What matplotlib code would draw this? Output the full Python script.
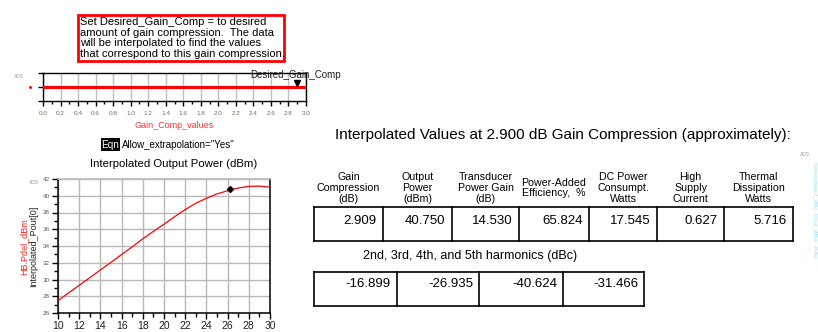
import matplotlib
matplotlib.use("Agg")
import matplotlib.pyplot as plt
from matplotlib.patches import Rectangle
from matplotlib.ticker import MultipleLocator, FormatStrFormatter

plt.rcParams['font.family'] = ['Liberation Sans', 'DejaVu Sans']

# ---------------- data ----------------
note_lines = ["Set Desired_Gain_Comp = to desired",
              "amount of gain compression.  The data",
              "will be interpolated to find the values",
              "that correspond to this gain compression."]

gain_comp_values = [0.0, 3.0]
gain_comp_level = [0.0, 0.0]
desired_gain_comp = 2.9

pin_dbm = [10, 11, 12, 13, 14, 15, 16, 17, 18, 19, 20,
           21, 22, 23, 24, 25, 26, 27, 28, 29, 30]
pout_dbm = [27.47, 28.40, 29.30, 30.22, 31.15, 32.05, 32.98, 33.90, 34.85, 35.75, 36.60,
            37.50, 38.35, 39.10, 39.70, 40.22, 40.60, 40.92, 41.12, 41.15, 41.02]
marker_pin = 26.2
marker_pout = 40.75

header_labels = [["Gain", "Compression", "(dB)"], ["Output", "Power", "(dBm)"],
                 ["Transducer", "Power Gain", "(dB)"], ["Power-Added", "Efficiency,  %"],
                 ["DC Power", "Consumpt.", "Watts"], ["High", "Supply", "Current"],
                 ["Thermal", "Dissipation", "Watts"]]
table_values = [2.909, 40.750, 14.530, 65.824, 17.545, 0.627, 5.716]
harmonic_values = [-16.899, -26.935, -40.624, -31.466]

W, H = 818, 332
fig = plt.figure(figsize=(W / 100, H / 100), dpi=100)
fig.patch.set_facecolor('white')

# overlay in pixel coordinates
bg = fig.add_axes([0, 0, 1, 1])
bg.set_xlim(0, W)
bg.set_ylim(H, 0)
bg.axis('off')

# note box
bg.add_patch(Rectangle((78, 15), 206, 46, fill=False, edgecolor='#ff0000', lw=2))
for i, line in enumerate(note_lines):
    bg.text(80.5, 22 + i * 10.7, line, fontsize=8, va='center', ha='left', color='black')

# small labels
bg.text(14, 76, 'ADS', fontsize=3.5, color='#999999', ha='left', va='center')
bg.plot([30], [87], marker='s', ms=1, color='red')
bg.text(29, 183, 'ADS', fontsize=3.5, color='#999999', ha='left', va='center')
bg.text(800, 155, 'ADS', fontsize=3.5, color='#999999', ha='left', va='center')

# Eqn
bg.add_patch(Rectangle((101, 138), 19, 13, facecolor='black', edgecolor='none'))
bg.text(110.5, 145, 'Eqn', fontsize=7.2, color='white', ha='center', va='center')
bg.text(121.5, 145, 'Allow_extrapolation="Yes"', fontsize=7.0, color='black', ha='left', va='center')
bg.text(174, 164, 'Interpolated Output Power (dBm)', fontsize=8.2, color='black',
        ha='center', va='center')

# y labels of main plot
bg.text(23.5, 247, 'HB.Pdel_dBm', fontsize=6.5, color='#ff2020', rotation=90,
        ha='center', va='center')
bg.text(33.5, 246, 'Interpolated_Pout[0]', fontsize=6.5, color='#202020', rotation=90,
        ha='center', va='center')

# slider xlabel
bg.text(174, 125, 'Gain_Comp_values', fontsize=6.5, color='#ff3030', ha='center', va='center')

# ---------------- tables ----------------
bg.text(563, 135, 'Interpolated Values at 2.900 dB Gain Compression (approximately):',
        fontsize=11, ha='center', va='center', color='black')

col_edges = [314, 383, 452, 519, 589, 657, 724, 793]
t1_top, t1_bot = 207, 241
lw_t = 1.2
bg.plot([col_edges[0], col_edges[-1]], [t1_top, t1_top], color='black', lw=lw_t)
bg.plot([col_edges[0], col_edges[-1]], [t1_bot, t1_bot], color='black', lw=lw_t)
for x in col_edges:
    bg.plot([x, x], [t1_top, t1_bot], color='black', lw=lw_t)
for i, (lab, val) in enumerate(zip(header_labels, table_values)):
    cx = (col_edges[i] + col_edges[i + 1]) / 2
    n = len(lab)
    for j, part in enumerate(lab):
        bg.text(cx, 188 + (j - (n - 1) / 2) * 10.6, part, fontsize=7.7, ha='center',
                va='center', color='black')
    bg.text(col_edges[i + 1] - 6.5, 221, f'{val:.3f}', fontsize=9.5, ha='right',
            va='center', color='black')

bg.text(470, 256, '2nd, 3rd, 4th, and 5th harmonics (dBc)', fontsize=9,
        ha='center', va='center', color='black')
h_edges = [314, 397, 479, 563, 644]
t2_top, t2_bot = 272, 306
bg.plot([h_edges[0], h_edges[-1]], [t2_top, t2_top], color='black', lw=lw_t)
bg.plot([h_edges[0], h_edges[-1]], [t2_bot, t2_bot], color='black', lw=lw_t)
for x in h_edges:
    bg.plot([x, x], [t2_top, t2_bot], color='black', lw=lw_t)
for i, val in enumerate(harmonic_values):
    bg.text(h_edges[i + 1] - 6, 284, f'{val:.3f}', fontsize=9.5, ha='right',
            va='center', color='black')

# faint rotated blue text at right edge
bg.text(814, 210, 'Interpolated_dBc  Pout_dBm  Pdel', fontsize=4.5, color='#a6dcf2',
        rotation=270, ha='center', va='center')

# ---------------- slider axes ----------------
ax1 = fig.add_axes([43 / W, 1 - 101 / H, 263 / W, 28 / H])
ax1.plot(gain_comp_values, gain_comp_level, color='#ff0000', lw=2.2, zorder=3)
ax1.set_xlim(0, 3)
ax1.set_ylim(-1, 1)
ax1.xaxis.set_major_locator(MultipleLocator(0.2))
ax1.xaxis.set_minor_locator(MultipleLocator(0.1))
ax1.xaxis.set_major_formatter(FormatStrFormatter('%.1f'))
ax1.set_yticks([-1, 0, 1])
ax1.set_yticklabels([])
ax1.grid(axis='x', which='major', color='#c0c0c0', lw=1)
ax1.tick_params(axis='x', which='major', direction='out', length=3.5, width=1,
                labelsize=4.6, labelcolor='#7a6a60', pad=4)
ax1.tick_params(axis='x', which='minor', direction='out', length=2.5, width=1)
ax1.tick_params(axis='y', direction='out', length=3.5, width=1)
for s in ax1.spines.values():
    s.set_color('black')
    s.set_linewidth(1)
ax1.plot([desired_gain_comp], [0.28], marker='v', color='black', ms=4, zorder=4, clip_on=False)
ax1.text(2.886, 0.85, 'Desired_Gain_Comp', fontsize=7, ha='center',
         va='center', color='#202020', clip_on=False, zorder=5)

# ---------------- main plot ----------------
ax2 = fig.add_axes([58 / W, 1 - 313 / H, 212 / W, 134 / H])
ax2.plot(pin_dbm, pout_dbm, color='#ff0000', lw=0.9, zorder=3)
ax2.plot([marker_pin], [marker_pout], marker='D', color='black', ms=3, zorder=4)
ax2.set_xlim(10, 30)
ax2.set_ylim(26, 42)
ax2.xaxis.set_major_locator(MultipleLocator(2))
ax2.xaxis.set_minor_locator(MultipleLocator(1))
ax2.yaxis.set_major_locator(MultipleLocator(2))
ax2.yaxis.set_minor_locator(MultipleLocator(1))
ax2.grid(which='major', color='#b8b8b8', lw=1)
ax2.tick_params(axis='x', which='major', direction='out', length=4, width=1,
                labelsize=7.5, labelcolor='#202020', pad=2)
ax2.tick_params(axis='x', which='minor', direction='out', length=3, width=1)
ax2.tick_params(axis='y', which='major', direction='out', length=4, width=1,
                labelsize=4.6, labelcolor='#6a5a55', pad=2)
ax2.tick_params(axis='y', which='minor', direction='out', length=3, width=1)
for k, s in ax2.spines.items():
    s.set_color('black')
    s.set_linewidth(1.1)
ax2.spines['top'].set_color('#b8b8b8')

fig.savefig('out.png', dpi=100, facecolor='white')
